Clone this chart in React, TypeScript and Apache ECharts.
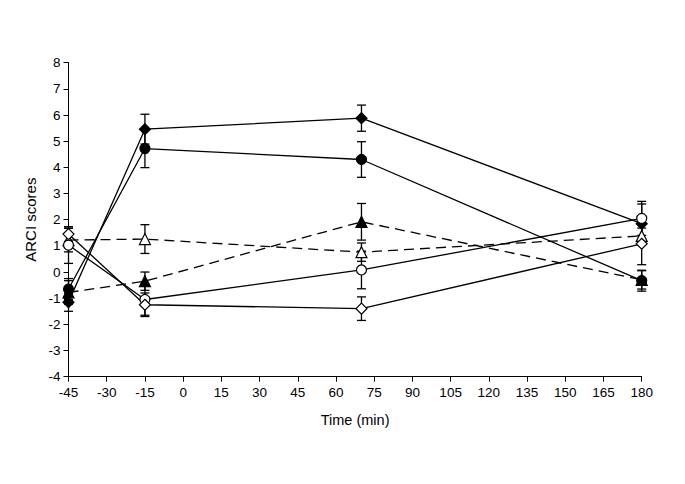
import React, { useEffect, useRef } from "react";
import * as echarts from "echarts";

const times = [-45, -15, 70, 180];
const xTicks = [-45, -30, -15, 0, 15, 30, 45, 60, 75, 90, 105, 120, 135, 150, 165, 180];

const filledDiamond = [-1.15, 5.46, 5.88, 1.85];
const filledDiamondErr = [0.35, 0.57, 0.5, 0.75];
const filledCircle = [-0.65, 4.72, 4.3, -0.33];
const filledCircleErr = [0.4, 0.73, 0.68, 0.4];
const filledTriangle = [-0.78, -0.35, 1.92, -0.3];
const filledTriangleErr = [0.45, 0.35, 0.7, 0.35];
const openTriangle = [1.22, 1.26, 0.76, 1.38];
const openTriangleErr = [0.45, 0.55, 0.35, 0.3];
const openCircle = [1.03, -1.05, 0.08, 2.05];
const openCircleErr = [0.7, 0.6, 0.72, 0.65];
const openDiamond = [1.45, -1.25, -1.4, 1.08];
const openDiamondErr = [0.28, 0.45, 0.45, 0.8];

type Spec = {
  name: string;
  values: number[];
  errs: number[];
  symbol: string;
  size: number;
  filled: boolean;
  dashed: boolean;
};

const specs: Spec[] = [
  { name: "filledDiamond", values: filledDiamond, errs: filledDiamondErr, symbol: "diamond", size: 11, filled: true, dashed: false },
  { name: "filledCircle", values: filledCircle, errs: filledCircleErr, symbol: "circle", size: 10, filled: true, dashed: false },
  { name: "filledTriangle", values: filledTriangle, errs: filledTriangleErr, symbol: "triangle", size: 11, filled: true, dashed: true },
  { name: "openTriangle", values: openTriangle, errs: openTriangleErr, symbol: "triangle", size: 11, filled: false, dashed: true },
  { name: "openCircle", values: openCircle, errs: openCircleErr, symbol: "circle", size: 10, filled: false, dashed: false },
  { name: "openDiamond", values: openDiamond, errs: openDiamondErr, symbol: "diamond", size: 11, filled: false, dashed: false },
];

export default function App() {
  const ref = useRef<HTMLDivElement>(null);
  useEffect(() => {
    if (!ref.current) return;
    const chart = echarts.init(ref.current, undefined, { renderer: "svg" });
    const font = "Liberation Sans, Arial, sans-serif";

    const errSeries = specs.map((s) => ({
      type: "custom",
      name: s.name + "-err",
      z: 1,
      clip: false,
      data: times.map((t, i) => [t, s.values[i], s.errs[i]]),
      renderItem: (params: any, api: any) => {
        const x = api.value(0);
        const y = api.value(1);
        const e = api.value(2);
        const top = api.coord([x, y + e]);
        const bot = api.coord([x, y - e]);
        const cw = 4.5;
        const style = { stroke: "#000", lineWidth: 1.3 };
        return {
          type: "group",
          children: [
            { type: "line", shape: { x1: top[0], y1: top[1], x2: bot[0], y2: bot[1] }, style },
            { type: "line", shape: { x1: top[0] - cw, y1: top[1], x2: top[0] + cw, y2: top[1] }, style },
            { type: "line", shape: { x1: bot[0] - cw, y1: bot[1], x2: bot[0] + cw, y2: bot[1] }, style },
          ],
        };
      },
    }));

    const lineSeries = specs.map((s) => ({
      type: "line",
      name: s.name,
      z: s.filled ? 3 : 4,
      data: times.map((t, i) => [t, s.values[i]]),
      symbol: s.symbol,
      symbolSize: s.size,
      showAllSymbol: true,
      lineStyle: {
        color: "#000",
        width: 1.3,
        type: s.dashed ? [10, 6] : "solid",
      },
      itemStyle: {
        color: s.filled ? "#000" : "#fff",
        borderColor: "#000",
        borderWidth: 1.2,
      },
      emphasis: { disabled: true },
    }));

    chart.setOption({
      animation: false,
      backgroundColor: "#fff",
      grid: { left: 60.5, right: 35.3, top: 54.7, bottom: 99.3, containLabel: false },
      xAxis: {
        type: "value",
        min: -45,
        max: 180,
        interval: 15,
        name: "Time (min)",
        nameLocation: "middle",
        nameGap: 36,
        nameTextStyle: { fontFamily: font, fontSize: 14.5, color: "#000" },
        axisLine: { show: true, onZero: false, lineStyle: { color: "#000", width: 1 } },
        axisTick: { show: true, inside: false, length: 5, lineStyle: { color: "#000" } },
        axisLabel: {
          fontFamily: font,
          fontSize: 13.5,
          color: "#000",
          margin: 9,
          customValues: xTicks,
        },
        splitLine: { show: false },
      },
      yAxis: {
        type: "value",
        min: -4,
        max: 8,
        interval: 1,
        name: "ARCI scores",
        nameLocation: "middle",
        nameGap: 29,
        nameTextStyle: { fontFamily: font, fontSize: 15, color: "#000" },
        axisLine: { show: true, onZero: false, lineStyle: { color: "#000", width: 1 } },
        axisTick: { show: true, inside: false, length: 5, lineStyle: { color: "#000" } },
        axisLabel: { fontFamily: font, fontSize: 13.5, color: "#000", margin: 8 },
        splitLine: { show: false },
      },
      series: [...errSeries, ...lineSeries],
    });
    return () => chart.dispose();
  }, []);
  return <div ref={ref} style={{ width: 669, height: 468 }} />;
}
